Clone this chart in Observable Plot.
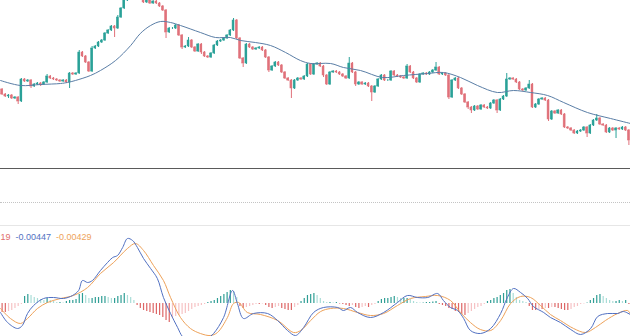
<!DOCTYPE html>
<html><head><meta charset="utf-8">
<script src="https://cdn.jsdelivr.net/npm/d3@7"></script>
<script src="https://cdn.jsdelivr.net/npm/@observablehq/plot@0.6"></script>
<style>
html,body{margin:0;padding:0;background:#fff;}
#wrap{position:relative;width:630px;height:336px;overflow:hidden;font-family:"Liberation Sans",Arial,sans-serif;background:#fff;}
#price{position:absolute;left:0;top:0;}
#macd{position:absolute;left:0;top:230px;}
.line1{position:absolute;left:0;top:167.5px;width:630px;border-top:1.5px solid #5a5a5a;}
.line2{position:absolute;left:0;top:202px;width:630px;border-top:1px dotted #c4c4c4;}
.line3{position:absolute;left:0;top:225px;width:630px;border-top:1px solid #e6e6e6;}
#legend{position:absolute;top:231.5px;left:0.5px;font-size:9px;line-height:10px;white-space:nowrap;}
#legend span{margin-right:5px;}
</style></head>
<body>
<div id="wrap">
  <div id="price"></div>
  <div class="line1"></div>
  <div class="line2"></div>
  <div class="line3"></div>
  <div id="macd"></div>
  <div id="legend"></div>
</div>
<script>
// ---- price candles (price in chart points, higher = up) ----
const firstOpen = 81;
const close = [
 76,74,75,72,73,69,91,89,90,84,86,87,86,88,94,92,91,90,89,90,
 88,97,96,97,118,114,108,99,122,124,128,130,137,140,144,142,153,162,170,175,
 180,178,182,176,168,170,167,169,167,164,160,138,142,142,145,135,123,124,130,123,
 119,126,118,114,113,117,125,129,130,132,135,140,150,132,112,107,126,123,121,122,
 123,120,113,100,104,108,105,98,92,90,82,90,92,91,94,106,96,106,107,104,
 95,86,98,99,98,96,94,92,107,98,86,88,86,87,84,78,84,91,95,90,
 90,99,95,94,93,92,104,98,92,88,96,97,96,98,100,103,96,97,95,73,
 90,92,82,76,68,63,60,64,61,65,63,62,67,70,60,71,74,91,92,91,
 88,81,80,82,86,63,66,71,72,70,51,59,57,60,56,43,42,40,37,39,
 40,43,37,45,50,52,46,45,38,42,40,42,41,43,40,30
];
const wickUp = [
 1,1,1,1,1,1,1,1,1,1,1,1,1,1,2,1,1,1,1,1,
 1,1,1,1,2,1,1,1,2,1,1,1,1,1,1,1,2,1,1,1,
 1,1,1,1,2,1,2,1,1,1,1,1,1,1,1,1,1,1,3,1,
 1,1,1,1,1,1,1,1,1,1,1,1,2,1,1,1,1,1,1,1,
 1,1,1,1,1,1,1,1,1,1,1,1,1,1,1,1,1,1,1,1,
 1,1,1,1,1,1,1,1,6,1,1,1,1,1,1,1,1,1,1,1,
 1,1,1,1,1,1,2,1,1,1,1,1,1,1,1,5,1,1,1,1,
 1,1,1,1,1,1,1,1,1,1,1,1,1,1,1,1,1,6,1,1,
 1,1,1,1,4,1,1,1,1,1,1,1,1,1,1,1,1,1,1,1,
 1,1,1,1,1,4,1,1,1,1,1,1,1,1,1,1
];
const wickDn = [
 1,1,2,1,1,3,1,1,1,2,1,1,2,1,1,1,1,1,1,1,
 1,6,1,1,1,1,1,1,1,1,1,1,1,1,1,9,1,1,1,1,
 1,1,1,1,1,1,1,1,1,1,1,6,1,1,1,1,2,1,1,1,
 1,1,2,1,1,1,1,1,1,1,1,1,1,1,1,4,1,1,1,1,
 1,1,1,2,1,1,1,1,1,1,10,1,1,1,1,1,1,1,1,1,
 2,1,1,1,1,1,1,1,1,1,2,1,1,1,1,9,1,1,1,1,
 1,1,1,1,1,1,1,1,1,1,1,1,1,1,1,1,1,1,1,2,
 1,1,1,1,1,2,3,1,1,1,1,1,1,1,3,1,1,1,1,1,
 1,1,1,1,1,1,1,1,1,1,2,1,1,1,1,1,1,1,1,1,
 1,1,4,1,1,1,1,1,1,1,1,8,1,1,1,5
];
// moving average, read at sample candles
const maIdx = [-0.5,5.7,12,18.2,20.3,22.8,27.5,30.6,35.3,40,43,46.2,49.3,52.4,55.5,61.7,66.4,71,74.2,78.8,83.5,88.2,92.8,96,102.2,106.2,111.5,118.4,124.9,132.4,137.3,142.6,147.9,154.1,159.1,164.4,169.7,174.7,182.1,189.3,195.5];
const maVal = [90,85,86,87,88,90,95,100,110,125,137,145,149,148,145,138,133,133,130,128,125,118,110,107,107,103,100,93,95,97,98,93,85,78,80,78,75,68,58,52,47];

// ---- MACD (units of 0.0001) ----
const hist = [
 -36,-36,-32,-28,-20,-12,-4,28,36,32,24,20,16,12,20,12,8,4,4,2,
 8,12,12,16,36,40,32,20,20,24,24,28,28,24,20,20,28,32,40,32,
 24,12,-8,-20,-28,-32,-36,-40,-44,-48,-56,-68,-76,-60,-52,-48,-44,-40,-32,-24,
 -16,-12,-8,-4,4,8,12,20,28,36,44,52,48,24,-12,-20,-16,-12,-8,-4,
 -4,-2,-8,-16,-20,-16,-12,-20,-24,-28,-28,-16,-8,8,20,32,36,40,32,20,
 8,4,4,2,4,-2,-4,-8,-12,-8,-16,-20,-16,-12,-16,-8,-4,8,16,20,
 20,24,28,24,20,20,20,16,8,4,2,2,4,4,6,8,-4,-8,-12,-20,
 -24,-32,-36,-44,-48,-40,-32,-24,-16,-12,-4,8,12,20,24,32,40,52,56,40,
 24,12,8,4,-12,-28,-28,-24,-24,-20,-20,-16,-16,-20,-24,-28,-28,-24,-16,-12,
 -4,-2,2,12,20,32,36,28,20,12,8,8,12,8,12,-4
];
const difIdx = [-0.5,1.7,4.8,6.3,7.9,9.8,12.9,16,19.1,21.9,23.8,25,26.6,28.1,30.6,32.8,34.4,35.9,37.5,39,40.6,42.1,44,46.2,48.3,50.2,52.4,54.6,56.1,58.6,61.7,63.9,65.8,68.9,71.7,73.2,75.1,78.2,82.6,85.7,88.8,91.3,93.8,96.9,100,104.4,106.2,108.4,110.6,114.6,118.7,123,126.1,129.2,132.4,135.5,137.3,139.5,141.7,143.6,145.7,148.8,152,155.1,157.2,159.1,161.3,163.5,165.3,168.5,170.6,173.7,176.9,180,183.1,185.3,188.4,191.5,193.3,195.5];
const difVal = [-36,-76,-100,-88,-40,-8,20,24,20,32,52,92,84,92,132,164,184,192,224,260,252,224,180,140,100,24,-40,-96,-132,-156,-160,-140,-120,-56,52,0,-60,-40,-40,-68,-108,-128,-96,-36,-16,-16,-28,-16,-36,-56,-36,4,32,24,24,40,12,-16,-28,-60,-108,-120,-100,-40,24,60,44,20,-12,-36,-56,-76,-104,-124,-100,-52,-40,-40,-32,-44.7];
const deaIdx = [-0.5,2.6,5.7,7.9,11,14.1,18.2,22.2,26.6,30.6,34.7,39,41.5,44,47.1,50.2,52.4,55.5,58.6,61.7,64.8,67,70.1,72,73.6,76.3,80.4,85.7,90.7,92.9,96,99.1,102.2,106.2,110.6,114.6,118.7,123,127.1,131.7,135.5,139.5,142.6,145.7,148.8,152,155.1,158.2,161.3,164.4,167.5,170.6,173.7,177.8,181.5,184.6,187.7,191.5,194.6,195.5];
const deaVal = [-20,-60,-80,-60,-20,4,20,32,64,120,164,220,240,212,152,92,24,-56,-100,-120,-128,-116,-56,0,4,-36,-44,-68,-116,-108,-68,-32,-20,-20,-36,-48,-40,-8,20,28,32,12,-36,-76,-104,-108,-68,0,28,24,-8,-44,-68,-100,-116,-96,-68,-40,-28,-42.9];
// legend as visible in the reference (first value is cropped to its last digits there)
const legendText = ["19", "-0.00447", "-0.00429"];

// ---- colours ----
const UP = "#2aa198", DOWN = "#e0717a", MA = "#5a7ea6";
const BLUE = "#5271c2", ORANGE = "#eea25a", TEXTRED = "#e06e6e";
const H_UP = "#2f9e95", H_UP_L = "#a9ddd7", H_DN = "#dd6666", H_DN_L = "#f6c2c4";

const N = close.length;
const candles = close.map((c, i) => {
  const o = i === 0 ? firstOpen : close[i - 1];
  return {i, open: o, close: c, high: Math.max(o, c) + wickUp[i], low: Math.min(o, c) - wickDn[i], col: c >= o ? UP : DOWN};
});
const ma = maIdx.map((x, k) => ({i: x, v: maVal[k]}));
const hd = hist.map((h, i) => {
  const p = i === 0 ? h : hist[i - 1];
  const col = h >= 0 ? (h >= p ? H_UP : H_UP_L) : (h <= p ? H_DN : H_DN_L);
  return {i, v: h / 1e4, col};
});
const dif = difIdx.map((x, k) => ({i: x, v: difVal[k] / 1e4}));
const dea = deaIdx.map((x, k) => ({i: x, v: deaVal[k] / 1e4}));
const xDom = [-0.5, N - 0.5];

const price = Plot.plot({
  width: 630, height: 169, margin: 0,
  x: {domain: xDom, axis: null},
  y: {domain: [1, 170], axis: null},
  color: {type: "identity"},
  marks: [
    Plot.ruleX(candles, {x: "i", y1: "low", y2: "high", stroke: "col", strokeWidth: 1, clip: true}),
    Plot.rect(candles, {x1: d => d.i - 0.3, x2: d => d.i + 0.3, y1: "open", y2: "close", fill: "col", stroke: "col", strokeWidth: 0.5, clip: true}),
    Plot.line(ma, {x: "i", y: "v", curve: "catmull-rom", stroke: MA, strokeWidth: 1, clip: true})
  ]
});
document.getElementById("price").append(price);

const macd = Plot.plot({
  width: 630, height: 106, margin: 0,
  x: {domain: xDom, axis: null},
  y: {domain: [-0.0132, 0.0292], axis: null},
  color: {type: "identity"},
  marks: [
    Plot.ruleX(hd, {x: "i", y1: 0, y2: "v", stroke: "col", strokeWidth: 1.2, clip: true}),
    Plot.line(dea, {x: "i", y: "v", curve: "catmull-rom", stroke: ORANGE, strokeWidth: 1, clip: true}),
    Plot.line(dif, {x: "i", y: "v", curve: "catmull-rom", stroke: BLUE, strokeWidth: 1, clip: true})
  ]
});
document.getElementById("macd").append(macd);

const lg = document.getElementById("legend");
[TEXTRED, BLUE, ORANGE].forEach((c, k) => {
  const s = document.createElement("span");
  s.style.color = c; s.textContent = legendText[k];
  lg.append(s);
});
</script>
</body></html>
